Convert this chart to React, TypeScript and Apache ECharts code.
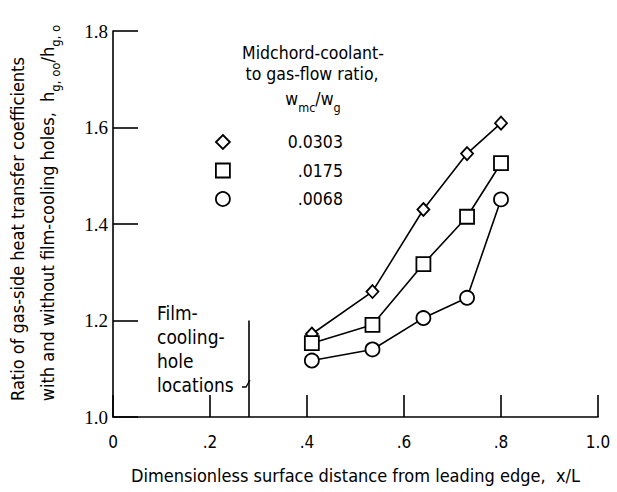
import React, { useEffect, useRef } from "react";
import * as echarts from "echarts";

const xPositions = [0.41, 0.535, 0.64, 0.73, 0.8];
const seriesNames = ["0.0303", ".0175", ".0068"];
const ratio0303 = [1.172, 1.26, 1.43, 1.546, 1.609];
const ratio0175 = [1.153, 1.191, 1.317, 1.415, 1.526];
const ratio0068 = [1.117, 1.14, 1.205, 1.247, 1.451];
const xTicks = [0, 0.2, 0.4, 0.6, 0.8, 1.0];
const yTicks = [1.0, 1.2, 1.4, 1.6, 1.8];
const filmHoleX = 0.28;
const filmHoleTop = 1.2;

const SANS = '"DejaVu Sans Condensed", "Liberation Sans Narrow", "DejaVu Sans", sans-serif';
const SERIF = '"Liberation Serif", "DejaVu Serif", serif';

export default function App() {
  const ref = useRef<HTMLDivElement>(null);
  useEffect(() => {
    if (!ref.current) return;
    const chart = echarts.init(ref.current, null, { renderer: "svg" });
    const symbols = ["diamond", "rect", "circle"];
    const sizes: any[] = [[12, 13], 14, 14];
    const values = [ratio0303, ratio0175, ratio0068];
    const series: any[] = values.map((vals, i) => ({
      name: seriesNames[i],
      type: "line",
      data: vals.map((v, j) => [xPositions[j], v]),
      symbol: symbols[i],
      symbolSize: sizes[i],
      showSymbol: true,
      lineStyle: { color: "#000", width: 1.6 },
      itemStyle: { color: "#fff", borderColor: "#000", borderWidth: 1.8 },
      z: 3 + i,
      markLine:
        i === 0
          ? {
              silent: true,
              symbol: ["none", "none"],
              label: { show: false },
              lineStyle: { color: "#000", width: 1.6, type: "solid" },
              data: [[{ coord: [filmHoleX, yTicks[0]] }, { coord: [filmHoleX, filmHoleTop] }]],
            }
          : undefined,
    }));

    const sub = { fontSize: 13, fontFamily: SANS, color: "#000", verticalAlign: "bottom", lineHeight: 30 };
    const base = { fontSize: 18, fontFamily: SANS, color: "#000", lineHeight: 20 };
    const subL = { ...sub, fontSize: 12.5, lineHeight: 29 };
    const baseL = { ...base, fontSize: 17.5 };

    chart.setOption({
      animation: false,
      backgroundColor: "#fff",
      grid: { left: 113, right: 19, top: 31, bottom: 75, containLabel: false },
      xAxis: {
        type: "value",
        min: xTicks[0],
        max: xTicks[xTicks.length - 1],
        interval: 0.2,
        splitLine: { show: false },
        axisLine: { onZero: false, lineStyle: { color: "#000", width: 1.6 } },
        axisTick: { inside: true, length: 22, lineStyle: { color: "#000", width: 1.6 } },
        axisLabel: {
          margin: 16,
          fontSize: 17,
          fontFamily: SANS,
          color: "#000",
          formatter: (v: number) => (v === 0 ? "0" : v === 1 ? "1.0" : v.toFixed(1).replace(/^0/, "")),
        },
        name: "Dimensionless surface distance from leading edge,  x/L",
        nameLocation: "middle",
        nameGap: 49,
        nameTextStyle: { fontSize: 18, fontFamily: SANS, color: "#000" },
      },
      yAxis: {
        type: "value",
        min: yTicks[0],
        max: yTicks[yTicks.length - 1],
        interval: 0.2,
        splitLine: { show: false },
        axisLine: { show: true, lineStyle: { color: "#000", width: 1.6 } },
        axisTick: { show: true, inside: true, length: 25, lineStyle: { color: "#000", width: 1.6 } },
        axisLabel: {
          margin: 5,
          fontSize: 19,
          fontFamily: SERIF,
          color: "#000",
          formatter: (v: number) => v.toFixed(1),
        },
      },
      legend: {
        orient: "vertical",
        left: 210,
        top: 128,
        itemWidth: 14,
        itemHeight: 14,
        itemGap: 10.5,
        selectedMode: false,
        data: seriesNames.map((n, i) => ({ name: n, icon: symbols[i] })),
        itemStyle: { color: "#fff", borderColor: "#000", borderWidth: 1.8 },
        formatter: (n: string) => "{v|" + n + "}",
        textStyle: {
          rich: { v: { width: 108, align: "right", fontSize: 17.5, fontFamily: SANS, color: "#000" } },
        },
      },
      graphic: [
        {
          type: "text",
          x: 17,
          y: 229,
          rotation: Math.PI / 2,
          style: {
            text: "Ratio of gas-side heat transfer coefficients",
            fontSize: 18,
            fontFamily: SANS,
            fill: "#000",
            align: "center",
            verticalAlign: "middle",
          },
        },
        {
          type: "text",
          x: 47,
          y: 213,
          rotation: Math.PI / 2,
          style: {
            text: "{n|with and without film-cooling holes,  h}{s|g, oo}{n|/h}{s|g, o}",
            align: "center",
            verticalAlign: "middle",
            rich: { n: base, s: sub },
          },
        },
        {
          type: "text",
          x: 313,
          y: 53,
          style: {
            text: "Midchord-coolant-",
            fontSize: 17.5,
            fontFamily: SANS,
            fill: "#000",
            align: "center",
            verticalAlign: "middle",
          },
        },
        {
          type: "text",
          x: 312,
          y: 74,
          style: {
            text: "to gas-flow ratio,",
            fontSize: 17.5,
            fontFamily: SANS,
            fill: "#000",
            align: "center",
            verticalAlign: "middle",
          },
        },
        {
          type: "text",
          x: 313,
          y: 99,
          style: {
            text: "{n|w}{s|mc}{n|/w}{s|g}",
            align: "center",
            verticalAlign: "middle",
            rich: { n: baseL, s: subL },
          },
        },
        {
          type: "text",
          x: 157,
          y: 301,
          style: {
            text: "Film-\ncooling-\nhole\nlocations",
            fontSize: 19,
            fontFamily: SANS,
            fill: "#000",
            align: "left",
            verticalAlign: "top",
            lineHeight: 24,
          },
        },
        {
          type: "polyline",
          shape: { points: [[242, 387], [246, 387], [250, 380]] },
          style: { stroke: "#000", lineWidth: 1.3, fill: "none" },
        },
      ],
      series,
    });
    return () => chart.dispose();
  }, []);
  return (
    <div
      ref={ref}
      style={{ position: "absolute", left: 0, top: 0, width: 617, height: 492, background: "#fff" }}
    />
  );
}
